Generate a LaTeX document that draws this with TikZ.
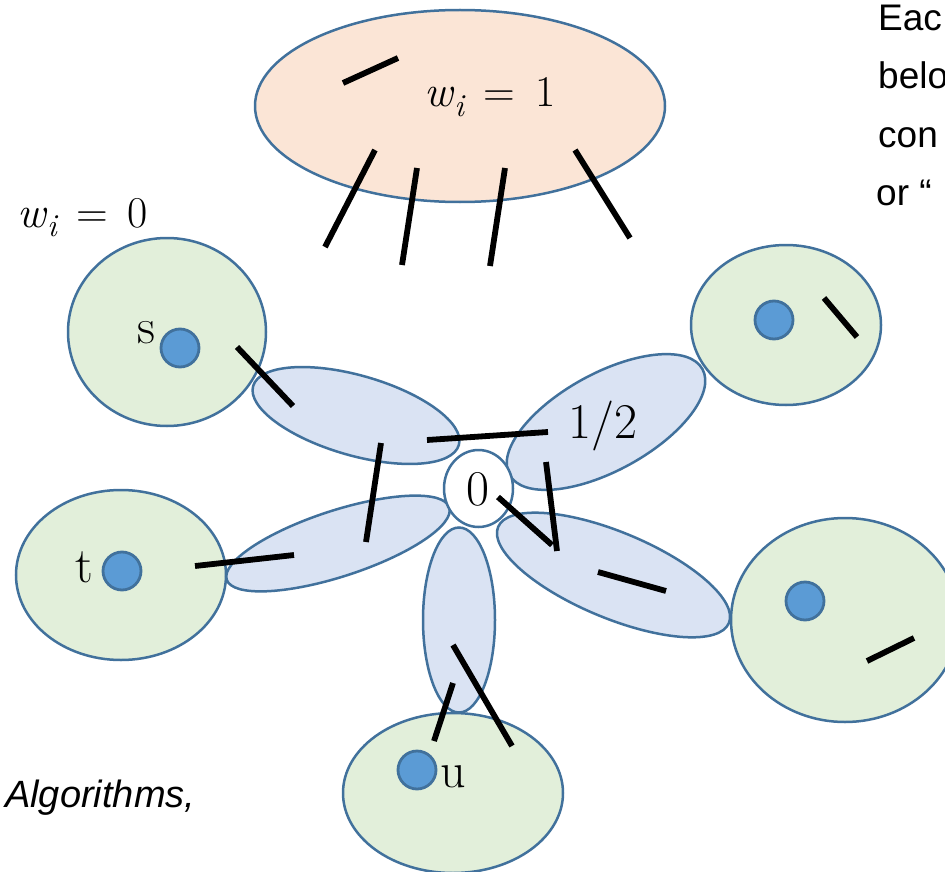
\documentclass[tikz,border=0pt]{standalone}
\usepackage{fontspec}
\newfontfamily\sansf{Liberation Sans}
\definecolor{bord}{HTML}{41719C}
\definecolor{grnfill}{HTML}{E2EFDA}
\definecolor{petfill}{HTML}{DAE3F3}
\definecolor{topfill}{HTML}{FBE5D6}
\definecolor{dotfill}{HTML}{5B9BD5}
\newcommand{\wlab}[1]{{\itshape w}\kern0.03em\raisebox{-0.22em}{\fontsize{32}{32}\selectfont\itshape i}\hspace{0.45em}=\hspace{0.45em}#1}
\tikzset{
  grp/.style={draw=bord, fill=grnfill, line width=2.5pt},
  petal/.style={draw=bord, fill=petfill, line width=2.5pt},
  topset/.style={draw=bord, fill=topfill, line width=2.5pt},
  vdot/.style={draw=bord, fill=dotfill, line width=2.8pt},
  hedge/.style={black, line width=5.8pt},
  mlab/.style={anchor=base, inner sep=0pt, font=\fontsize{44}{52}\selectfont},
  blab/.style={anchor=base, inner sep=0pt, font=\fontsize{50}{60}\selectfont},
  slab/.style={anchor=base west, inner sep=0pt, font=\sansf\fontsize{37}{44}\selectfont}
}
\begin{document}
\begin{tikzpicture}[x=1pt,y=-1pt]
\useasboundingbox (0,0) rectangle (945,872);
\fill[white] (0,0) rectangle (945,872);

% top set
\draw[topset] (460,106) ellipse [x radius=205, y radius=96];

% green sets
\draw[grp] (167,332) ellipse [x radius=99, y radius=94];
\draw[grp] (121,575) ellipse [x radius=105, y radius=85];
\draw[grp] (786,325) ellipse [x radius=95, y radius=80];
\draw[grp] (845,620) ellipse [x radius=114, y radius=102];
\draw[grp] (453,793) ellipse [x radius=110, y radius=80];

% petals
\draw[petal] (356,415.5) ellipse [x radius=107, y radius=40, rotate=-16];
\draw[petal] (338,543.5) ellipse [x radius=117, y radius=33, rotate=18];
\draw[petal] (459,620) ellipse [x radius=36, y radius=92.5];
\draw[petal] (613.5,575) ellipse [x radius=125, y radius=43, rotate=-22.6];
\draw[petal] (606,422) ellipse [x radius=110, y radius=48.6, rotate=28.7];

% center
\draw[draw=bord, fill=white, line width=2.5pt] (478.5,488.5) ellipse [x radius=34.5, y radius=38.5];

% dots
\draw[vdot] (180,348) circle [radius=19];
\draw[vdot] (122,571) circle [radius=19];
\draw[vdot] (774,320) circle [radius=19];
\draw[vdot] (805,601) circle [radius=19];
\draw[vdot] (417,770) circle [radius=19];

% hyperedge segments
\draw[hedge] (343,83) -- (398,58);
\draw[hedge] (375,150) -- (325,247);
\draw[hedge] (417,168) -- (402,265);
\draw[hedge] (505,168) -- (490,266);
\draw[hedge] (575,150) -- (630,238);
\draw[hedge] (237,347) -- (293,406);
\draw[hedge] (195,566) -- (294,555);
\draw[hedge] (381,443) -- (366,542);
\draw[hedge] (427,440) -- (548,432);
\draw[hedge] (546,462) -- (557,551);
\draw[hedge] (498,497) -- (552,545);
\draw[hedge] (598,572) -- (666,591);
\draw[hedge] (824,298) -- (857,337);
\draw[hedge] (867,661) -- (914,638);
\draw[hedge] (434,741) -- (453,683);
\draw[hedge] (512,746) -- (453,645);

% labels
\node[mlab] (w1) at (490,107) {\wlab{1}};
\node[mlab, anchor=base west] (w0) at (17,227) {\wlab{0}};
\node[blab] (half) at (603,438) {1/2};
\node[blab] (zero) at (478,505) {0};
\node[blab] (ls) at (146,343) {s};
\node[blab] (lt) at (84,582) {t};
\node[blab] (lu) at (453,787) {u};

\node[slab] (r1) at (878,31) {Eac};
\node[slab] (r2) at (878,89) {belo};
\node[slab] (r3) at (878,147) {con};
\node[slab] (r4) at (876,205) {or “};

\node[anchor=base west, inner sep=0pt, font=\sansf\itshape\fontsize{38}{44}\selectfont] (alg) at (5,807) {Algorithms,};
\end{tikzpicture}
\end{document}
